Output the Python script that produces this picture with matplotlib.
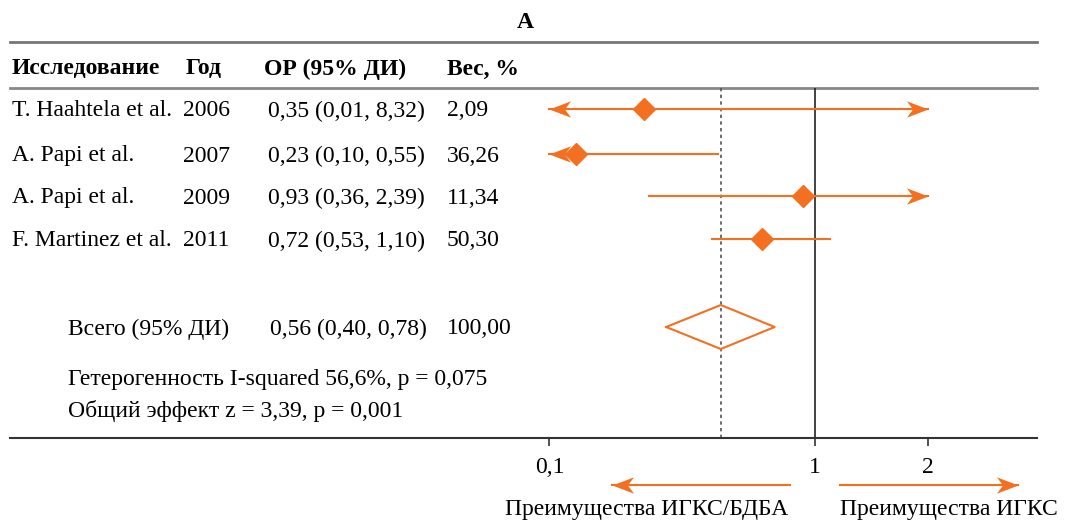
import numpy as np
import matplotlib
matplotlib.use("Agg")
import matplotlib.pyplot as plt
from matplotlib.path import Path

plt.rcParams['font.family'] = ['Liberation Serif', 'DejaVu Serif']

studies = ["T. Haahtela et al.", "A. Papi et al.", "A. Papi et al.", "F. Martinez et al."]
years = ["2006", "2007", "2009", "2011"]
or_est = [0.35, 0.23, 0.93, 0.72]
ci_lo = [0.01, 0.10, 0.36, 0.53]
ci_hi = [8.32, 0.55, 2.39, 1.10]
weights = ["2,09", "36,26", "11,34", "50,30"]
or_text = ["0,35 (0,01, 8,32)", "0,23 (0,10, 0,55)", "0,93 (0,36, 2,39)", "0,72 (0,53, 1,10)"]

total_est, total_lo, total_hi = 0.56, 0.40, 0.78
total_text = "0,56 (0,40, 0,78)"
total_weight = "100,00"
het_text = "Гетерогенность I-squared 56,6%, p = 0,075"
effect_text = "Общий эффект z = 3,39, p = 0,001"

# axis is clipped at these values (left one is labelled "0,1" in the original)
clip_lo, clip_hi = 0.195, 2.0
tick_vals = [clip_lo, 1, 2]
tick_labels = ["0,1", "1", "2"]

orange = '#F37021'
W, H = 1075, 521
fs = 17
head_ms = 31

# stealth arrow heads, tip at the marker position
right_head = Path([(0, 0), (-1, 0.38), (-0.72, 0), (-1, -0.38), (0, 0)],
                  [Path.MOVETO, Path.LINETO, Path.LINETO, Path.LINETO, Path.CLOSEPOLY])
left_head = Path([(0, 0), (1, 0.38), (0.72, 0), (1, -0.38), (0, 0)],
                 [Path.MOVETO, Path.LINETO, Path.LINETO, Path.LINETO, Path.CLOSEPOLY])

fig = plt.figure(figsize=(W / 100, H / 100), dpi=100)

# background axes in pixel units for the table text and rules
ax0 = fig.add_axes([0, 0, 1, 1])
ax0.set_xlim(0, W)
ax0.set_ylim(H, 0)
ax0.axis('off')

row_y = [109, 154, 196, 239]
total_y = 327
dy_txt = 2

ax0.text(525, 20 + dy_txt, "A", fontsize=fs, fontweight='bold', ha='center', va='center')
ax0.plot([10, 1037], [42, 42], color='#777777', lw=2)
ax0.plot([10, 1037], [88, 88], color='#888888', lw=2)

for label, x in zip(["Исследование", "Год", "ОР (95% ДИ)", "Вес, %"], [12, 186, 264, 447]):
    ax0.text(x, 67 + dy_txt, label, fontsize=fs, fontweight='bold', va='center')

for i, y in enumerate(row_y):
    ax0.text(12, y + dy_txt, studies[i], fontsize=fs, va='center')
    ax0.text(183, y + dy_txt, years[i], fontsize=fs, va='center')
    ax0.text(268, y + dy_txt, or_text[i], fontsize=fs, va='center')
    ax0.text(447, y + dy_txt, weights[i], fontsize=fs, va='center')

ax0.text(68, total_y + dy_txt, "Всего (95% ДИ)", fontsize=fs, va='center')
ax0.text(270, total_y + dy_txt, total_text, fontsize=fs, va='center')
ax0.text(447, total_y + dy_txt, total_weight, fontsize=fs, va='center')
ax0.text(68, 378 + dy_txt, het_text, fontsize=fs, va='center')
ax0.text(68, 409 + dy_txt, effect_text, fontsize=fs, va='center')

# direction arrows under the axis
ax0.plot([612, 790], [485, 485], color=orange, lw=1.5)
ax0.plot(612, 485, marker=left_head, color=orange, markersize=head_ms, mew=0)
ax0.plot([840, 1018], [485, 485], color=orange, lw=1.5)
ax0.plot(1018, 485, marker=right_head, color=orange, markersize=head_ms, mew=0)
ax0.text(505, 508 + dy_txt, "Преимущества ИГКС/БДБА", fontsize=fs, va='center')
ax0.text(840, 508 + dy_txt, "Преимущества ИГКС", fontsize=fs, va='center')

# forest axes (log scale)
ax = fig.add_axes([10 / W, 1 - 438 / H, 1027 / W, 350 / H])
ax.set_xscale('log')
ax.set_xlim(10 ** ((10 - 815) / 374), 10 ** ((1037 - 815) / 374))
ax.set_ylim(438, 88)
ax.patch.set_alpha(0)
for s in ['top', 'left', 'right']:
    ax.spines[s].set_visible(False)
ax.spines['bottom'].set_color('#333333')
ax.spines['bottom'].set_linewidth(1.5)
ax.set_yticks([])
ax.set_xticks(tick_vals)
ax.set_xticklabels(tick_labels)
ax.xaxis.set_minor_locator(matplotlib.ticker.NullLocator())
ax.tick_params(axis='x', length=6, width=1.2, color='#333333', labelsize=fs, pad=8)

ax.axvline(1, color='#222222', lw=1.2)
ax.axvline(total_est, color='#555555', lw=1.2, ls=(0, (2, 2)))

for i, y in enumerate(row_y):
    lo = max(ci_lo[i], clip_lo)
    hi = min(ci_hi[i], clip_hi)
    ax.plot([lo, hi], [y, y], color=orange, lw=1.5)
    if ci_lo[i] < clip_lo:
        ax.plot(clip_lo, y, marker=left_head, color=orange, markersize=head_ms, mew=0)
    if ci_hi[i] > clip_hi:
        ax.plot(clip_hi, y, marker=right_head, color=orange, markersize=head_ms, mew=0)
    ax.plot(or_est[i], y, marker='D', color=orange, markersize=11, zorder=5)

dx = [total_lo, total_est, total_hi, total_est, total_lo]
dy = [total_y, total_y - 22, total_y, total_y + 22, total_y]
ax.plot(dx, dy, color=orange, lw=1.5)

fig.savefig("out.png", dpi=100)
